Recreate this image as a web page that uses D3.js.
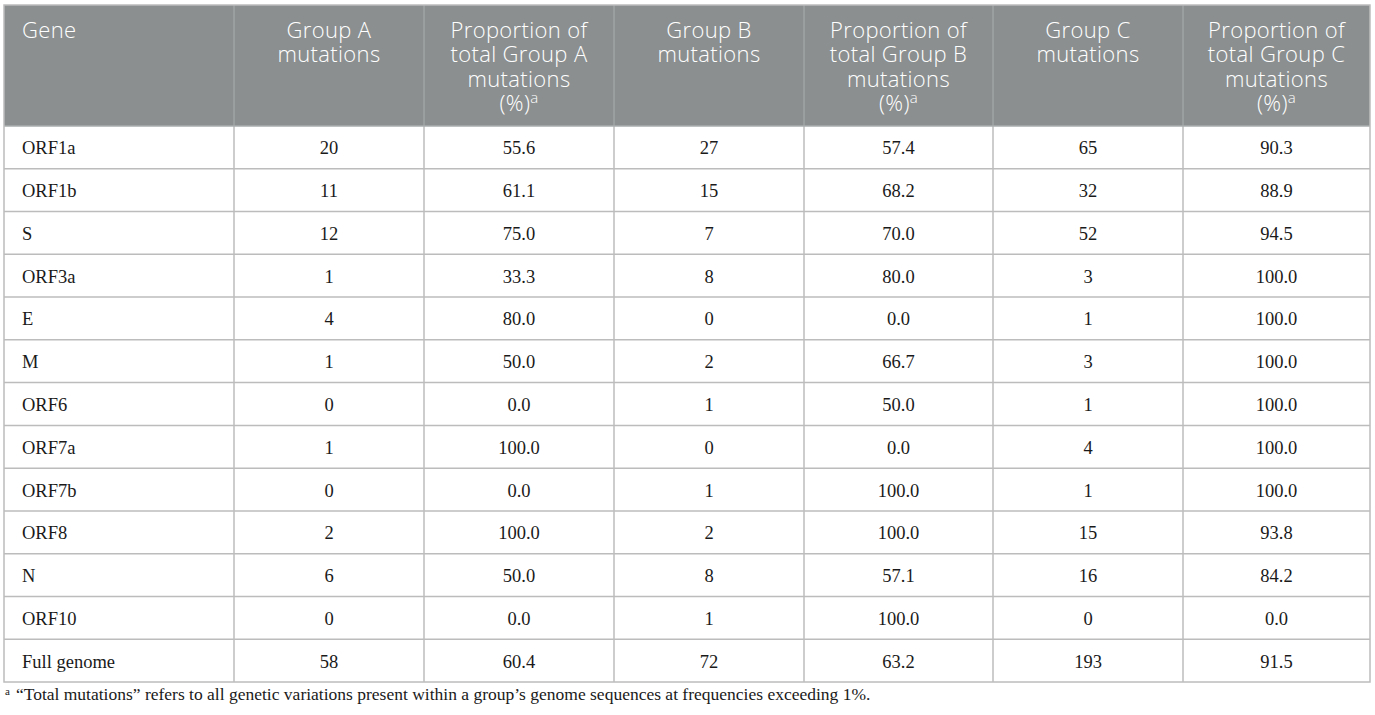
<!DOCTYPE html>
<html><head><meta charset="utf-8">
<script src="https://cdn.jsdelivr.net/npm/d3@7/dist/d3.min.js"></script>
<style>
html,body{margin:0;padding:0;background:#fff;}
svg{display:block;}
</style></head>
<body>
<script>
// ---- data ----
const genes = ["ORF1a","ORF1b","S","ORF3a","E","M","ORF6","ORF7a","ORF7b","ORF8","N","ORF10","Full genome"];
const groupA = [20,11,12,1,4,1,0,1,0,2,6,0,58];
const propA = ["55.6","61.1","75.0","33.3","80.0","50.0","0.0","100.0","0.0","100.0","50.0","0.0","60.4"];
const groupB = [27,15,7,8,0,2,1,0,1,2,8,1,72];
const propB = ["57.4","68.2","70.0","80.0","0.0","66.7","50.0","0.0","100.0","100.0","57.1","100.0","63.2"];
const groupC = [65,32,52,3,1,3,1,4,1,15,16,0,193];
const propC = ["90.3","88.9","94.5","100.0","100.0","100.0","100.0","100.0","100.0","93.8","84.2","0.0","91.5"];
const headers = [
  ["Gene"],
  ["Group A","mutations"],
  ["Proportion of","total Group A","mutations","(%)"],
  ["Group B","mutations"],
  ["Proportion of","total Group B","mutations","(%)"],
  ["Group C","mutations"],
  ["Proportion of","total Group C","mutations","(%)"]
];
const footnote = "\u201CTotal mutations\u201D refers to all genetic variations present within a group\u2019s genome sequences at frequencies exceeding 1%.";

// ---- layout ----
const W = 1375, H = 715;
const colEdges = [4, 234, 424, 614, 804, 993, 1183, 1370];
const tableTop = 5, headBottom = 126, tableBottom = 682;
const columns = [genes, groupA, propA, groupB, propB, groupC, propC];

const svg = d3.select("body").append("svg").attr("width", W).attr("height", H);

const colIdx = d3.range(columns.length);
const xLeft = d3.scaleOrdinal().domain(colIdx).range(colEdges.slice(0, -1));
const xRight = d3.scaleOrdinal().domain(colIdx).range(colEdges.slice(1));
const y = d3.scaleBand().domain(genes).range([headBottom, tableBottom]);

// header background
svg.append("rect").attr("x", colEdges[0]).attr("y", tableTop)
  .attr("width", colEdges[7] - colEdges[0]).attr("height", headBottom - tableTop)
  .attr("fill", "#8b8f90");

// header separators
svg.selectAll("line.hsep").data(colIdx.slice(1)).join("line")
  .attr("x1", d => xLeft(d)).attr("x2", d => xLeft(d))
  .attr("y1", tableTop).attr("y2", headBottom)
  .attr("stroke", "#a5a9aa").attr("stroke-width", 1.2);

// header text (one text element per line)
const hfont = "'Open Sans', 'Lato', sans-serif";
colIdx.forEach(ci => {
  const lines = headers[ci];
  const tx = ci === 0 ? xLeft(ci) + 18 : (xLeft(ci) + xRight(ci)) / 2;
  lines.forEach((ln, li) => {
    const t = svg.append("text")
      .attr("font-family", hfont).attr("font-weight", 300)
      .attr("font-size", 22).attr("fill", "#ffffff")
      .attr("letter-spacing", 0.35)
      .attr("text-anchor", ci === 0 ? "start" : "middle")
      .attr("x", tx).attr("y", 38 + li * 24.4);
    t.append("tspan").text(ln);
    if (ln === "(%)") {
      t.append("tspan").attr("dy", -8).attr("font-size", 15).text("a");
    }
  });
});

// body cells
const rows = svg.append("g");
genes.forEach((gname, ri) => {
  colIdx.forEach(ci => {
    const v = columns[ci][ri];
    rows.append("text")
      .attr("font-family", "'Liberation Serif', 'Times New Roman', serif")
      .attr("font-size", 18.5).attr("fill", "#1a1a1a")
      .attr("text-anchor", ci === 0 ? "start" : "middle")
      .attr("x", ci === 0 ? xLeft(ci) + 18 : (xLeft(ci) + xRight(ci)) / 2)
      .attr("y", y(gname) + y.bandwidth() / 2 + 7)
      .text(v);
  });
});

// body grid
const gridColor = "#bcbcbc";
svg.selectAll("line.rsep").data(genes.slice(1)).join("line")
  .attr("x1", colEdges[0]).attr("x2", colEdges[7])
  .attr("y1", d => y(d)).attr("y2", d => y(d))
  .attr("stroke", gridColor).attr("stroke-width", 1.5);
svg.selectAll("line.csep").data(colIdx.slice(1)).join("line")
  .attr("x1", d => xLeft(d)).attr("x2", d => xLeft(d))
  .attr("y1", headBottom).attr("y2", tableBottom)
  .attr("stroke", gridColor).attr("stroke-width", 1.5);
// header bottom line
svg.append("line").attr("x1", colEdges[0]).attr("x2", colEdges[7])
  .attr("y1", headBottom).attr("y2", headBottom)
  .attr("stroke", "#a9acad").attr("stroke-width", 1.5);
// outer border
svg.append("rect").attr("x", colEdges[0]).attr("y", tableTop)
  .attr("width", colEdges[7] - colEdges[0]).attr("height", tableBottom - tableTop)
  .attr("fill", "none").attr("stroke", gridColor).attr("stroke-width", 1.5);

// footnote
const fn = svg.append("text")
  .attr("font-family", "'Liberation Serif', 'Times New Roman', serif")
  .attr("font-size", 17.5).attr("fill", "#1a1a1a")
  .attr("x", 5).attr("y", 700);
fn.append("tspan").attr("font-size", 11).attr("dy", -5).text("a");
fn.append("tspan").attr("dx", 6).attr("dy", 5).text(footnote);
</script>
</body></html>
